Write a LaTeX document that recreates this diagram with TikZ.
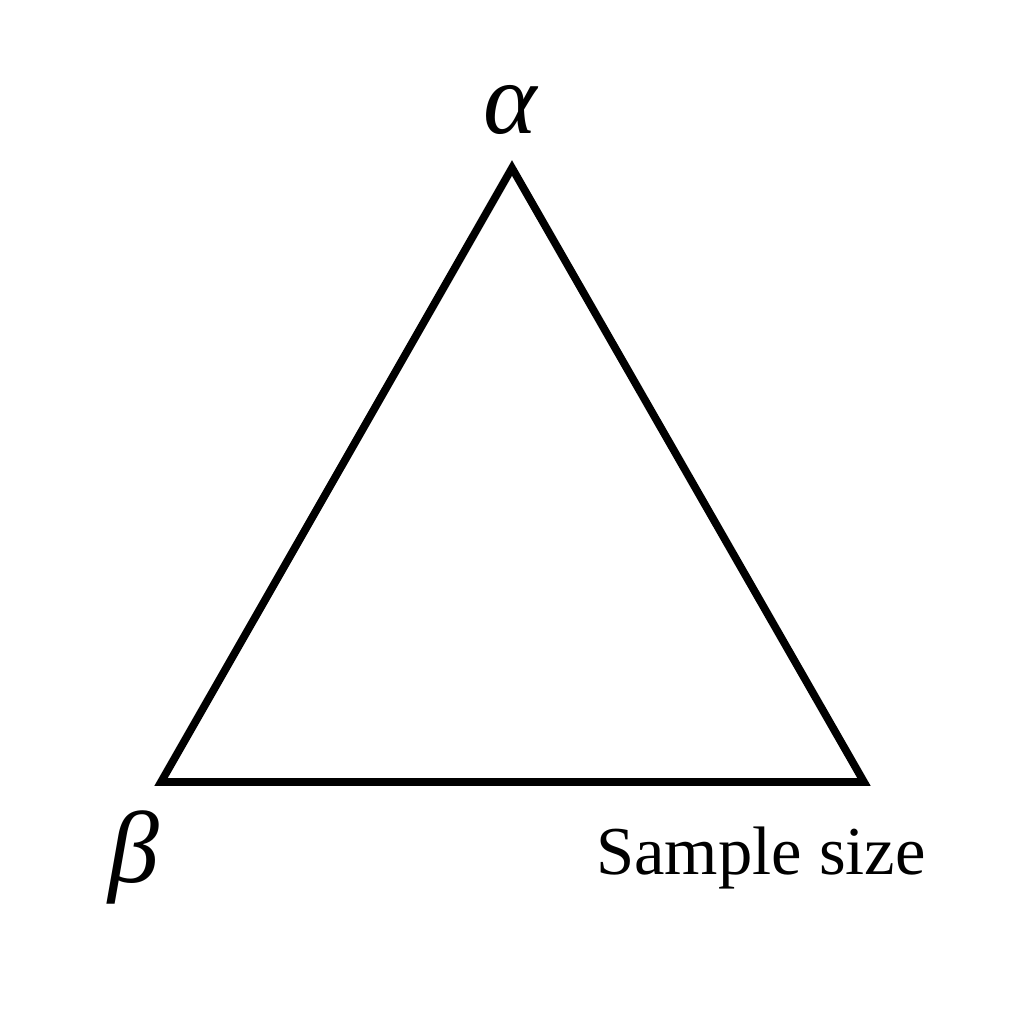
\documentclass[tikz,border=0pt]{standalone}
\usepackage{fontspec}
\setmainfont{Liberation Serif}
\begin{document}
\begin{tikzpicture}[x=0.01cm,y=-0.01cm]
\useasboundingbox(0,0)rectangle(1024,1024);
\coordinate(top)at(512,168);
\coordinate(left)at(161,782);
\coordinate(right)at(864,782);
\draw[line width=2.2pt,line join=miter](top)--(left)--(right)--cycle;
%
\node(alpha)at(510,110){\fontsize{29}{29}\selectfont\itshape α};
\node(beta)at(134,857){\fontsize{29}{29}\selectfont\itshape β};
\node(size)at(761,858){\fontsize{19.5}{20}\selectfont Sample size};
\end{tikzpicture}
\end{document}
